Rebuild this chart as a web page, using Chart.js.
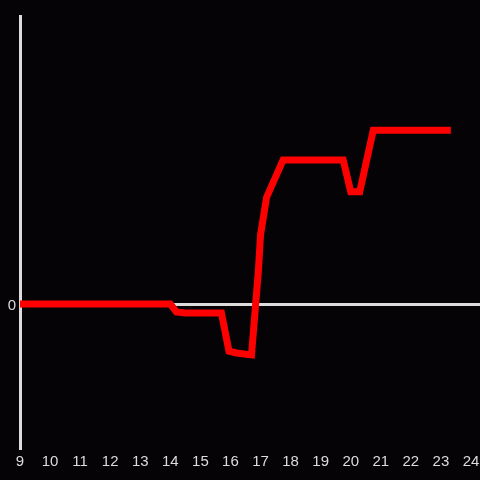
<!DOCTYPE html>
<html><head><meta charset="utf-8">
<script src="https://cdn.jsdelivr.net/npm/chart.js@4/dist/chart.umd.min.js"></script>
<style>html,body{margin:0;padding:0;background:#050306;}#wrap{width:480px;height:480px;}</style>
</head><body><div id="wrap"><canvas id="c" width="480" height="480"></canvas></div>
<script>
const hours = [9, 14.0, 14.2, 14.5, 15.7, 15.95, 16.2, 16.7, 16.93, 17.0, 17.2, 17.75, 19.75, 20.0, 20.3, 20.75, 23.33];
const values = [0, 0, -0.083, -0.094, -0.094, -0.49, -0.51, -0.53, 0.35, 0.72, 1.11, 1.5, 1.5, 1.17, 1.17, 1.81, 1.81];
const xTicks = [9, 10, 11, 12, 13, 14, 15, 16, 17, 18, 19, 20, 21, 22, 23, 24];
const yTicks = [0];
const xMin = 9, xMax = 24.3, yMin = -1.5, yMax = 3;

new Chart(document.getElementById('c'), {
  type: 'line',
  data: { datasets: [{
    data: hours.map((h, i) => ({x: h, y: values[i]})),
    borderColor: '#ff0000', borderWidth: 7, pointRadius: 0, tension: 0, fill: false,
    borderJoinStyle: 'miter', borderCapStyle: 'butt'
  }]},
  options: {
    responsive: false, animation: false,
    layout: { padding: { top: 16, right: 0, left: 0, bottom: 0 } },
    plugins: { legend: { display: false }, tooltip: { enabled: false } },
    scales: {
      x: {
        type: 'linear', min: xMin, max: xMax,
        afterBuildTicks: s => { s.ticks = xTicks.map(v => ({value: v})); },
        grid: { display: false },
        border: { display: false },
        ticks: { color: '#dcdcdc', font: { family: 'Liberation Sans', size: 15 }, padding: -3, maxRotation: 0, autoSkip: false },
        afterFit: s => { s.height = 32; s.paddingRight = 0; s.paddingLeft = 0; }
      },
      y: {
        min: yMin, max: yMax,
        afterBuildTicks: s => { s.ticks = yTicks.map(v => ({value: v})); },
        grid: { color: '#dcdcdc', lineWidth: 3, drawTicks: false },
        border: { display: true, color: '#dcdcdc', width: 3 },
        ticks: { color: '#dcdcdc', font: { family: 'Liberation Sans', size: 15 }, padding: 4, labelOffset: 2 },
        afterFit: s => { s.width = 20; s.paddingTop = 0; s.paddingBottom = 0; }
      }
    }
  },
  plugins: [{ id: 'bg', beforeDraw: ch => { const c = ch.ctx; c.save(); c.fillStyle = '#050306'; c.fillRect(0,0,ch.width,ch.height); c.restore(); } }]
});
</script></body></html>
